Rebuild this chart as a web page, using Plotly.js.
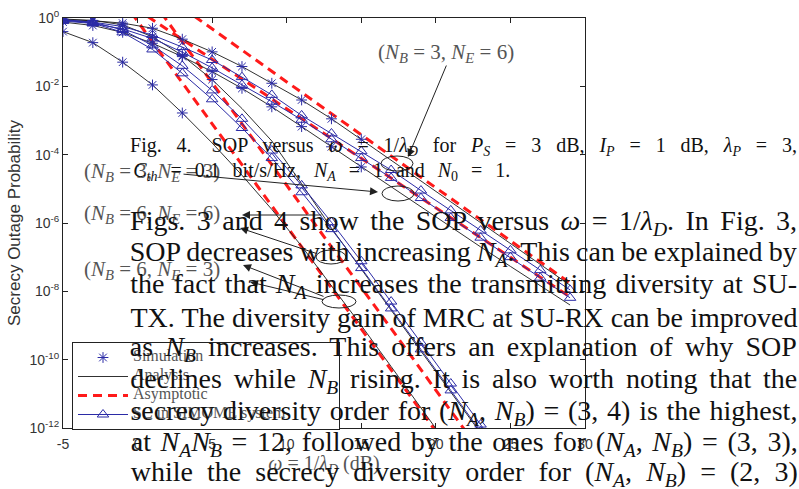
<!DOCTYPE html>
<html><head><meta charset="utf-8">
<script src="https://cdn.plot.ly/plotly-3.0.1.min.js"></script>
<style>html,body{margin:0;padding:0;background:#fff}#c{width:799px;height:489px}</style>
</head><body><div id="c"></div>
<script>
// ---- data ----
const xGrid = [-5,-3,-1,1,3,5,7,9,11,13,15,17,19,21,23,25,27,29];
// N_B = 3 group
const anaNB3NE6 = [0.891,0.832,0.708,0.501,0.240,0.102,0.038,0.0123,3.98e-3,1.12e-3,2.82e-4,6.9e-5,1.70e-5,4.17e-6,1.02e-6,2.51e-7,6.17e-8,1.51e-8];
const anaNB3NE3 = [0.759,0.603,0.380,0.182,0.0741,0.0269,8.71e-3,2.51e-3,6.61e-4,1.70e-4,4.37e-5,1.12e-5,2.88e-6,7.59e-7,2.0e-7,5.37e-8,1.45e-8,3.98e-9];
const scNB3NE6 = [0.851,0.759,0.562,0.316,0.141,0.0589,0.0186,5.62e-3,1.41e-3,4.17e-4,1.26e-4,3.55e-5,8.9e-6,2.34e-6,6.0e-7,1.58e-7,4.17e-8,1.10e-8];
const scNB3NE3 = [0.813,0.692,0.479,0.251,0.100,0.0347,0.011,3.55e-3,1.05e-3,2.82e-4,7.94e-5,2.09e-5,5.37e-6,1.41e-6,3.72e-7,1.0e-7,2.51e-8,6.46e-9];
const asyX1 = [3,5,7,9,11,13,15,17,19,21,23,25,27,29];
const asyNB3NE6 = [2.0,0.48,0.115,2.75e-2,6.6e-3,1.6e-3,3.8e-4,9.1e-5,2.2e-5,5.2e-6,1.26e-6,3.0e-7,7.2e-8,1.74e-8];
const asyX2 = [-1,1,3,5,7,9,11,13,15,17,19,21,23,25,27,29];
const asyNB3NE3 = [3.4,0.90,0.237,6.22e-2,1.64e-2,4.3e-3,1.13e-3,2.98e-4,7.8e-5,2.06e-5,5.42e-6,1.43e-6,3.75e-7,9.9e-8,2.6e-8,6.8e-9];
// N_B = 6 group
const anaNB6NE3 = [0.40,0.19,0.051,0.011,1.66e-3,2.2e-4,2.5e-5,2.5e-6,2.1e-7,1.5e-8,1.0e-9,6.3e-11,4.0e-12,2.4e-13];
const anaNB6NE6 = [0.933,0.851,0.631,0.282,0.0794,0.0158,2.24e-3,2.51e-4,1.41e-5,7.08e-7,4.47e-8,2.82e-9,1.78e-10,1.12e-11,7.08e-13];
const scNB6NE3 = [0.891,0.759,0.447,0.158,0.0398,7.59e-3,1.12e-3,1.32e-4,1.26e-5,1.05e-6,7.59e-8,5.01e-9,3.16e-10,2.0e-11,1.26e-12,7.94e-14];
const scNB6NE6 = [0.871,0.708,0.380,0.120,0.024,4.17e-3,6.03e-4,7.94e-5,7.94e-6,6.61e-7,4.79e-8,3.16e-9,2.0e-10,1.26e-11,7.94e-13,5.01e-14];
const asyX3 = [-1,1,3,5,7,9,11,13,15,17,19,21];
const asyNB6NE3 = [3.2,0.20,1.26e-2,7.9e-4,5.0e-5,3.2e-6,2.0e-7,1.26e-8,7.9e-10,5.0e-11,3.2e-12,2.0e-13];
const asyX4 = [1,3,5,7,9,11,13,15,17,19,21,23];
const asyNB6NE6 = [3.2,0.20,1.3e-2,8.1e-4,5.1e-5,3.2e-6,2.0e-7,1.3e-8,8.1e-10,5.1e-11,3.2e-12,2.0e-13];
// number of simulation points shown on each analysis curve
const simCount = {nb3ne6: 11, nb3ne3: 11, nb6ne3: 5, nb6ne6: 6};
const xTicks = [-5,0,5,10,15,20,25,30];
const yTicks = [1e-12,1e-10,1e-8,1e-6,1e-4,1e-2,1];
const yTickText = ['10<sup>-12</sup>','10<sup>-10</sup>','10<sup>-8</sup>','10<sup>-6</sup>','10<sup>-4</sup>','10<sup>-2</sup>','10<sup>0</sup>'];
const legendNames = ['Simulation','Analysis','Asymptotic','SC in SIMOME system'];

// ---- styles ----
const BLUE = '#2b2ba6', BLACK = '#1a1a1a', RED = '#ff1a1a';
const L = 63, R = 585, T = 18, B = 428;
const px = v => (v - L) / (R - L);
const py = v => (B - v) / (B - T);

const traces = [];
function ana(x, y){ traces.push({x, y, mode:'lines', line:{color:BLACK, width:0.9}, showlegend:false, hoverinfo:'skip'}); }
function sc(x, y){ traces.push({x, y, mode:'lines+markers', line:{color:BLUE, width:1}, marker:{symbol:'triangle-up-open', size:10, color:BLUE, line:{width:1}}, showlegend:false, hoverinfo:'skip'}); }
function asy(x, y){ traces.push({x, y, mode:'lines', line:{color:RED, width:3, dash:'9px,6px'}, showlegend:false, hoverinfo:'skip'}); }
function sim(x, y){ traces.push({x, y, mode:'markers', marker:{symbol:'asterisk-open', size:9, color:BLUE, line:{width:1, color:BLUE}}, showlegend:false, hoverinfo:'skip'}); }

asy(asyX1, asyNB3NE6); asy(asyX2, asyNB3NE3); asy(asyX3, asyNB6NE3); asy(asyX4, asyNB6NE6);
ana(xGrid, anaNB3NE6); ana(xGrid, anaNB3NE3); ana(xGrid.slice(0, anaNB6NE3.length), anaNB6NE3); ana(xGrid.slice(0, anaNB6NE6.length), anaNB6NE6);
sc(xGrid, scNB3NE6); sc(xGrid, scNB3NE3); sc(xGrid.slice(0, scNB6NE3.length), scNB6NE3); sc(xGrid.slice(0, scNB6NE6.length), scNB6NE6);
sim(xGrid.slice(0, simCount.nb3ne6), anaNB3NE6.slice(0, simCount.nb3ne6));
sim(xGrid.slice(0, simCount.nb3ne3), anaNB3NE3.slice(0, simCount.nb3ne3));
sim(xGrid.slice(0, simCount.nb6ne3), anaNB6NE3.slice(0, simCount.nb6ne3));
sim(xGrid.slice(0, simCount.nb6ne6), anaNB6NE6.slice(0, simCount.nb6ne6));
// legend-only traces
const lg = t => '<span style="font-size:16px">' + t + '</span>';
traces.push({x:[null], y:[null], mode:'markers', name:lg(legendNames[0]), marker:{symbol:'asterisk-open', size:9, color:BLUE, line:{width:1, color:BLUE}}});
traces.push({x:[null], y:[null], mode:'lines', name:lg(legendNames[1]), line:{color:BLACK, width:0.9}});
traces.push({x:[null], y:[null], mode:'lines', name:lg(legendNames[2]), line:{color:RED, width:3, dash:'9px,6px'}});
traces.push({x:[null], y:[null], mode:'lines+markers', name:lg(legendNames[3] + '\u00a0'.repeat(12)), line:{color:BLUE, width:1}, marker:{symbol:'triangle-up-open', size:10, color:BLUE}});

const GRAY = '#555';
const serif = 'Liberation Serif, Times New Roman, serif';
const NB = '<i>N</i><sub><i>B</i></sub>', NE = '<i>N</i><sub><i>E</i></sub>', NA = '<i>N</i><sub><i>A</i></sub>';
const ann = [];
function lab(text, x, y, anchor, size){ ann.push({xref:'paper', yref:'paper', x:px(x), y:py(y), xanchor:anchor||'left', yanchor:'middle', text, showarrow:false, font:{family:serif, size:size||21, color:GRAY}}); }
function arrow(hx, hy, tx, ty){ ann.push({xref:'paper', yref:'paper', x:px(hx), y:py(hy), ax:tx-hx, ay:ty-hy, text:'', showarrow:true, arrowhead:2, arrowsize:1.6, arrowwidth:1, arrowcolor:'#222'}); }
lab('('+NB+' = 3, '+NE+' = 6)', 446, 53, 'center');
lab('('+NB+' = 3, '+NE+' = 3)', 82, 172);
lab('('+NB+' = 6, '+NE+' = 6)', 82, 214);
lab('('+NB+' = 6, '+NE+' = 3)', 82, 270);
arrow(408, 157, 447, 64);
arrow(378, 192, 182, 174);
arrow(242, 215, 323, 215);
arrow(240, 228, 318, 254);
arrow(243, 265, 325, 297);
arrow(250, 282, 325, 300);

// overlaid page text, justified between left and right edges
const justified = [];
function line(text, x0, x1, cy, size){ justified.push({idx: ann.length, width: x1 - x0}); ann.push({xref:'paper', yref:'paper', x:px((x0 + x1) / 2), y:py(cy), xanchor:'center', yanchor:'middle', text, showarrow:false, font:{family:serif, size, color:'#111'}}); }
const w = '<i>ω</i> = 1/<i>λ</i><sub><i>D</i></sub>';
line('Fig. 4.\u2003SOP versus '+w+' for <i>P</i><sub><i>S</i></sub> = 3 dB, <i>I</i><sub><i>P</i></sub> = 1 dB, <i>λ</i><sub><i>P</i></sub> = 3,', 130, 797, 146, 20);
line('<i>C</i><sub><i>th</i></sub> = 0.1 bit/s/Hz, '+NA+' = 1 and <i>N</i><sub>0</sub> = 1.', 133, 510, 171, 20);
const body = [
 'Figs. 3 and 4 show the SOP versus '+w+'. In Fig. 3,',
 'SOP decreases with increasing '+NA+'. This can be explained by',
 'the fact that '+NA+' increases the transmitting diversity at SU-',
 'TX. The diversity gain of MRC at SU-RX can be improved',
 'as '+NB+' increases. This offers an explanation of why SOP',
 'declines while '+NB+' rising. It is also worth noting that the',
 'secrecy diversity order for ('+NA+', '+NB+') = (3, 4) is the highest,',
 'at '+NA+NB+' = 12, followed by the ones for ('+NA+', '+NB+') = (3, 3),',
 'while the secrecy diversity order for ('+NA+', '+NB+') = (2, 3)'
];
const bodyY = [222, 253, 285, 317, 348, 380, 412, 443, 473];
body.forEach((t, i) => line(t, 130, 797, bodyY[i], 28));

const shapes = [
 {type:'circle', xref:'paper', yref:'paper', x0:px(381), x1:px(413), y0:py(171), y1:py(156), line:{color:'#222', width:1}},
 {type:'circle', xref:'paper', yref:'paper', x0:px(382), x1:px(414), y0:py(201), y1:py(186), line:{color:'#222', width:1}},
 {type:'circle', xref:'paper', yref:'paper', x0:px(316), x1:px(346), y0:py(264), y1:py(250), line:{color:'#222', width:1}},
 {type:'circle', xref:'paper', yref:'paper', x0:px(322), x1:px(356), y0:py(308), y1:py(295), line:{color:'#222', width:1}}
];

const sans = 'Liberation Sans, Arial, sans-serif';
const axisCommon = {showline:true, linecolor:'#222', linewidth:1, mirror:'ticks', ticks:'inside', ticklen:5, tickcolor:'#222', showgrid:false, zeroline:false, tickfont:{family:sans, size:14, color:'#333'}};
const layout = {
 width:799, height:489, margin:{l:L, r:799-R, t:T, b:489-B}, paper_bgcolor:'#fff', plot_bgcolor:'#fff',
 xaxis: Object.assign({}, axisCommon, {range:[-5,30], tickvals:xTicks, ticktext:xTicks.map(String), ticklabelstandoff:3, title:{text:w+' (dB)', font:{family:serif, size:20, color:GRAY}, standoff:4}}),
 yaxis: Object.assign({}, axisCommon, {type:'log', range:[-12,0], tickvals:yTicks, ticktext:yTickText, title:{text:'Secrecy Outage Probability', font:{family:sans, size:17, color:'#333'}, standoff:4}}),
 showlegend:true,
 legend:{x:px(72), y:py(342), xanchor:'left', yanchor:'top', bgcolor:'#fff', bordercolor:'#222', borderwidth:1, font:{family:serif, size:10, color:GRAY}, tracegroupgap:0, itemwidth:50},
 annotations: ann, shapes
};
Plotly.newPlot('c', traces, layout, {staticPlot:true}).then(gd => {
 justified.forEach(j => {
   const t = gd.querySelector('.annotation[data-index="'+j.idx+'"] text.annotation-text');
   if (!t) return;
   const natural = t.getComputedTextLength();
   const spaces = (t.textContent.match(/ /g) || []).length;
   if (spaces > 0) t.style.wordSpacing = ((j.width - natural) / spaces) + 'px';
 });
});
</script></body></html>
